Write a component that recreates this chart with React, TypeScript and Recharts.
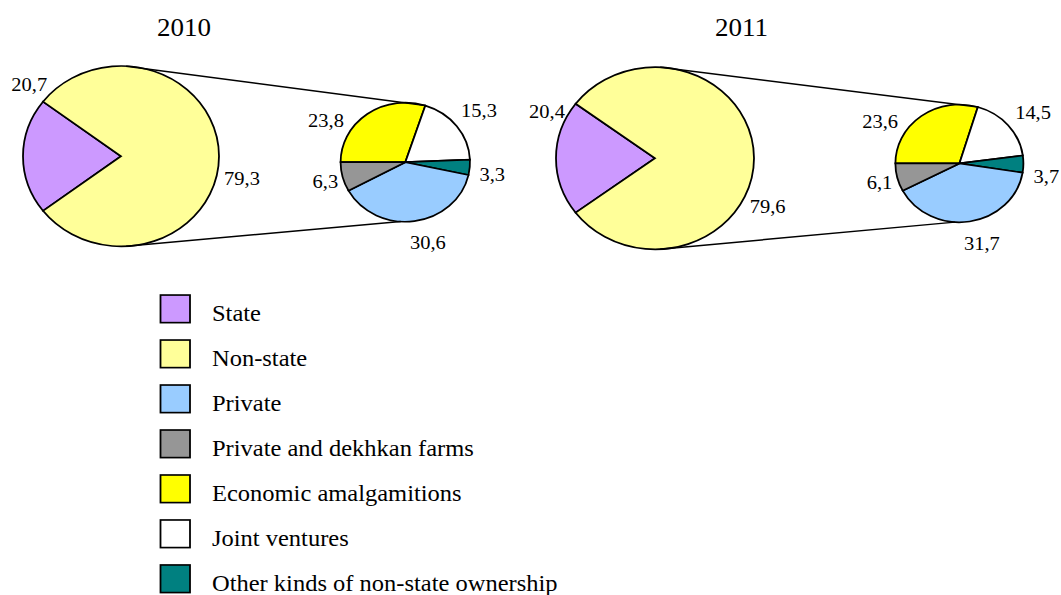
import React from 'react';
import { PieChart, Pie, Cell } from 'recharts';

// ---- data ----
const categories = [
  'State',
  'Non-state',
  'Private',
  'Private and dekhkan farms',
  'Economic amalgamitions',
  'Joint ventures',
  'Other kinds of non-state ownership',
];
const years = ['2010', '2011'];
const values2010 = [20.7, 79.3, 30.6, 6.3, 23.8, 15.3, 3.3];
const values2011 = [20.4, 79.6, 31.7, 6.1, 23.6, 14.5, 3.7];
// order in which the non-state breakdown is drawn (clockwise from the left)
const breakdownOrder = [4, 5, 6, 2, 3];

// ---- style / layout ----
const colors = ['#CC99FF', '#FFFF99', '#99CCFF', '#969696', '#FFFF00', '#FFFFFF', '#008080'];
const SY = 0.92; // vertical squeeze of the whole picture
const FONT = '"Liberation Serif", "Times New Roman", serif';
const SW = 1.8;

type PieLayout = {
  big: { cx: number; cy: number; r: number };
  small: { cx: number; cy: number; r: number };
  titleX: number;
  bigLabels: [number, number][]; // angle, distance
};
const layouts: PieLayout[] = [
  {
    big: { cx: 121, cy: 169.8, r: 98 },
    small: { cx: 405.3, cy: 176.3, r: 64.7 },
    titleX: 184,
    bigLabels: [[139.6, 120.5], [-11.3, 123.4]],
  },
  {
    big: { cx: 655, cy: 172, r: 99 },
    small: { cx: 959.4, cy: 177.6, r: 64 },
    titleX: 741.5,
    bigLabels: [[154.7, 119.4], [-24.7, 124]],
  },
];
const smallLabels: [number, number][] = [[150, 91.5], [37.2, 92.5], [-8.9, 88], [-75.5, 90], [194.5, 82.5]];

const RAD = Math.PI / 180;
const polar = (cx: number, cy: number, r: number, a: number) => ({
  x: cx + r * Math.cos(a * RAD),
  y: cy - r * Math.sin(a * RAD),
});
const fmt = (v: number) => v.toFixed(1).replace('.', ',');

const makeLabel = (cx: number, cy: number, place: [number, number][]) => (props: any) => {
  const i = props.index as number;
  const [a, d] = place[i];
  const p = polar(cx, cy, d, a);
  return (
    <text
      key={`lbl-${cx}-${i}`}
      x={p.x}
      y={p.y}
      textAnchor="middle"
      dominantBaseline="central"
      fontFamily={FONT}
      fontSize={20.5}
      fill="#000"
    >
      {fmt(props.value as number)}
    </text>
  );
};

export default function App() {
  const allValues = [values2010, values2011];
  return (
    <div
      style={{
        position: 'absolute',
        left: 0,
        top: 0,
        width: 1061,
        height: 647,
        transform: `scaleY(${SY})`,
        transformOrigin: '0 0',
        background: '#fff',
        fontFamily: FONT,
      }}
    >
      <div style={{ position: 'absolute', left: 0, top: 0 }}>
        <PieChart width={1061} height={300} margin={{ top: 0, left: 0, right: 0, bottom: 0 }}>
          {allValues.map((vals, yi) => {
            const L = layouts[yi];
            const bigData = [0, 1].map((c) => ({ name: categories[c], value: vals[c], c }));
            const start = 180 - (360 * vals[0]) / (vals[0] + vals[1]) / 2;
            return (
              <Pie
                key={`big-${yi}`}
                data={bigData}
                dataKey="value"
                nameKey="name"
                cx={L.big.cx}
                cy={L.big.cy}
                innerRadius={0}
                outerRadius={L.big.r}
                startAngle={start}
                endAngle={start + 360}
                stroke="#000"
                strokeWidth={SW}
                isAnimationActive={false}
                labelLine={false}
                label={makeLabel(L.big.cx, L.big.cy, L.bigLabels)}
              >
                {bigData.map((d) => (
                  <Cell key={d.c} fill={colors[d.c]} stroke="#000" strokeWidth={SW} />
                ))}
              </Pie>
            );
          })}
          {allValues.map((vals, yi) => {
            const L = layouts[yi];
            const smallData = breakdownOrder.map((c) => ({ name: categories[c], value: vals[c], c }));
            return (
              <Pie
                key={`small-${yi}`}
                data={smallData}
                dataKey="value"
                nameKey="name"
                cx={L.small.cx}
                cy={L.small.cy}
                innerRadius={0}
                outerRadius={L.small.r}
                startAngle={180}
                endAngle={-180}
                stroke="#000"
                strokeWidth={SW}
                isAnimationActive={false}
                labelLine={false}
                label={makeLabel(L.small.cx, L.small.cy, smallLabels)}
              >
                {smallData.map((d) => (
                  <Cell key={d.c} fill={colors[d.c]} stroke="#000" strokeWidth={SW} />
                ))}
              </Pie>
            );
          })}
        </PieChart>
      </div>
      <svg
        width={1061}
        height={647}
        style={{ position: 'absolute', left: 0, top: 0, pointerEvents: 'none' }}
      >
        {years.map((y, yi) => {
          const L = layouts[yi];
          const vals = allValues[yi];
          const breakdownTotal = breakdownOrder.reduce((s, c) => s + vals[c], 0);
          const firstEnd = 180 - (360 * vals[breakdownOrder[0]]) / breakdownTotal;
          const t1 = polar(L.big.cx, L.big.cy, L.big.r, 87);
          const t2 = polar(L.small.cx, L.small.cy, L.small.r, firstEnd);
          const b1 = polar(L.big.cx, L.big.cy, L.big.r, -87);
          const b2 = polar(L.small.cx, L.small.cy, L.small.r, -94);
          return (
            <g key={y}>
              <text x={L.titleX} y={38.8} textAnchor="middle" fontFamily={FONT} fontSize={27} fill="#000">
                {y}
              </text>
              <line x1={t1.x} y1={t1.y} x2={t2.x} y2={t2.y} stroke="#000" strokeWidth={1.6} />
              <line x1={b1.x} y1={b1.y} x2={b2.x} y2={b2.y} stroke="#000" strokeWidth={1.6} />
            </g>
          );
        })}
        {categories.map((c, i) => {
          const top = 320.7 + i * 48.9;
          return (
            <g key={c}>
              <rect x={160.5} y={top} width={29.5} height={30} fill={colors[i]} stroke="#000" strokeWidth={1.8} />
              <text x={212} y={top + 28} fontFamily={FONT} fontSize={24.5} fill="#000">
                {c}
              </text>
            </g>
          );
        })}
      </svg>
    </div>
  );
}
